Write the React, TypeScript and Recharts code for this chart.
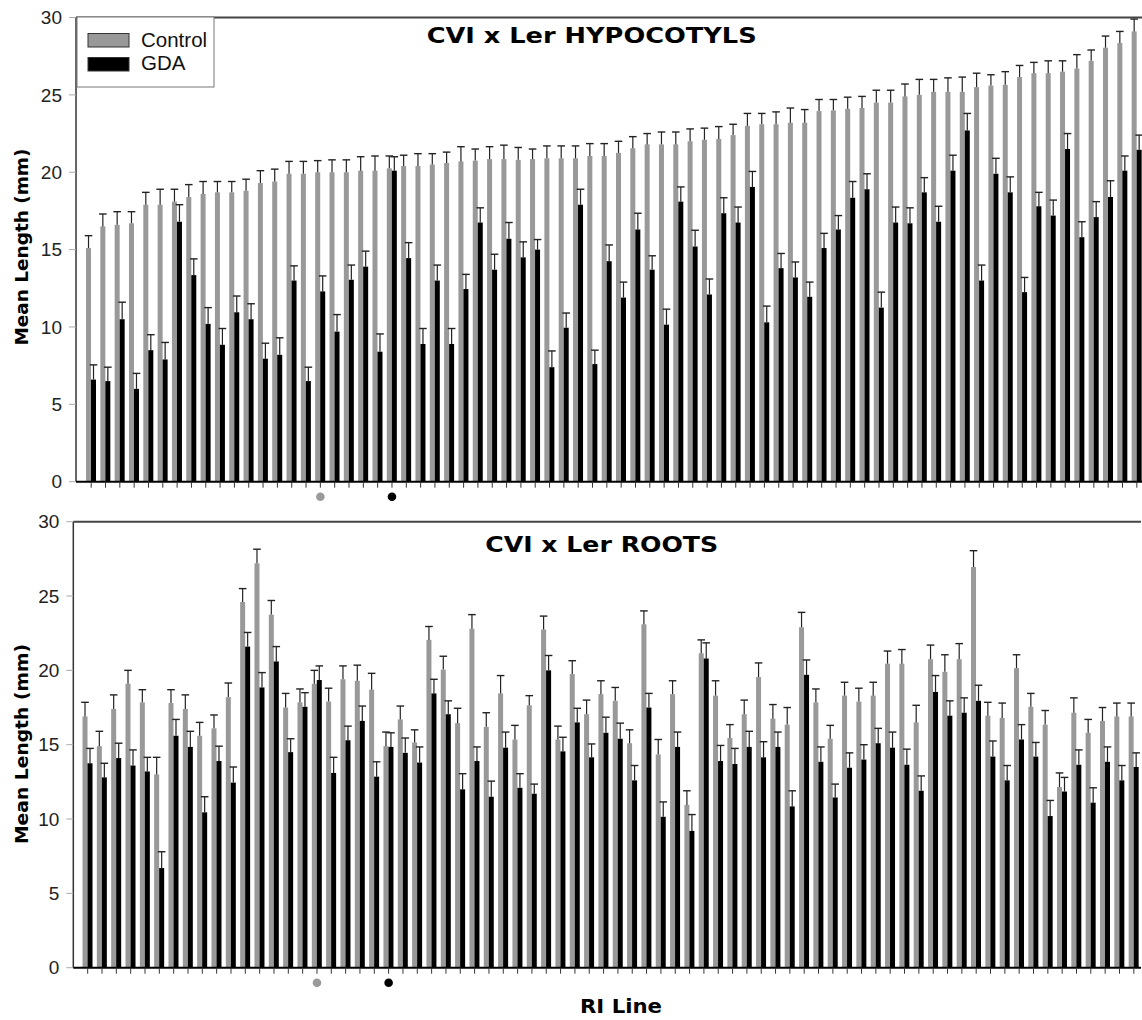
import React from "react";
import { BarChart, Bar, XAxis, YAxis, ReferenceLine } from "recharts";

// hypocotyl lengths (mm), lines sorted by control length
const hypoControl = [
  15.1, 16.5, 16.6, 16.7, 17.9, 17.9, 18.1, 18.4, 18.6, 18.7, 18.7, 18.8, 19.3, 19.4, 19.9, 19.9, 20.0, 20.0, 20.0,
  20.1, 20.1, 20.25, 20.4, 20.4, 20.5, 20.6, 20.7, 20.75, 20.85, 20.85, 20.8, 20.85, 20.9, 20.9, 20.9, 21.05, 21.05,
  21.25, 21.55, 21.8, 21.8, 21.8, 22.0, 22.1, 22.15, 22.4, 23.0, 23.1, 23.1, 23.2, 23.2, 23.95, 24.0, 24.1, 24.15,
  24.5, 24.5, 24.9, 25.0, 25.2, 25.2, 25.2, 25.5, 25.6, 25.65, 26.15, 26.4, 26.4, 26.5, 26.7, 27.2, 28.05, 28.35, 29.1,
];
const hypoControlErr = [
  0.8, 0.8, 0.85, 0.75, 0.8, 1.0, 0.8, 0.8, 0.8, 0.7, 0.7, 0.75, 0.8, 0.8, 0.8, 0.8, 0.75, 0.8, 0.8, 0.9, 0.95, 0.8,
  0.7, 0.8, 0.7, 0.7, 0.95, 0.75, 0.8, 0.9, 0.8, 0.65, 0.8, 0.8, 0.8, 0.8, 0.8, 0.75, 0.75, 0.7, 0.8, 0.8, 0.8, 0.75,
  0.8, 0.7, 0.8, 0.7, 0.8, 0.95, 0.85, 0.75, 0.7, 0.75, 0.75, 0.8, 0.8, 0.8, 1.0, 0.8, 0.9, 0.95, 0.9, 0.7, 0.85, 0.75,
  0.7, 0.8, 0.7, 0.9, 0.7, 0.75, 0.75, 0.8,
];
const hypoGda = [
  6.6, 6.5, 10.5, 6.0, 8.5, 7.9, 16.8, 13.35, 10.2, 8.85, 10.95, 10.5, 7.95, 8.2, 13.0, 6.5, 12.3, 9.7, 13.05, 13.9,
  8.4, 20.1, 14.45, 8.9, 13.0, 8.9, 12.45, 16.75, 13.7, 15.7, 14.5, 15.0, 7.4, 9.95, 17.9, 7.6, 14.25, 11.9, 16.3,
  13.7, 10.15, 18.1, 15.2, 12.1, 17.35, 16.75, 19.05, 10.3, 13.8, 13.2, 11.95, 15.1, 16.3, 18.35, 18.9, 11.25, 16.75,
  16.7, 18.7, 16.8, 20.1, 22.7, 13.0, 19.9, 18.7, 12.25, 17.8, 17.2, 21.5, 15.8, 17.1, 18.4, 20.1, 21.45,
];
const hypoGdaErr = [
  0.95, 0.9, 1.1, 1.0, 1.0, 1.1, 1.1, 1.05, 1.05, 1.05, 1.05, 1.0, 1.0, 1.1, 0.95, 0.9, 1.0, 1.1, 0.95, 1.0, 1.15, 0.9,
  1.0, 1.0, 1.0, 1.0, 0.95, 0.95, 1.0, 1.05, 1.0, 0.65, 1.05, 0.95, 1.0, 0.9, 1.05, 1.0, 1.05, 0.9, 1.0, 0.95, 1.05,
  1.0, 1.0, 1.0, 1.0, 1.05, 0.95, 1.0, 0.95, 0.95, 0.9, 1.05, 1.0, 1.0, 1.0, 1.0, 0.95, 1.0, 1.0, 1.1, 1.0, 1.0, 1.0,
  0.95, 0.9, 1.0, 1.0, 1.0, 1.0, 1.05, 0.95, 0.95,
];

// root lengths (mm), same line order
const rootControl = [
  16.9, 14.9, 17.4, 19.1, 17.85, 13.0, 17.8, 17.4, 15.6, 16.1, 18.2, 24.6, 27.2, 23.75, 17.5, 17.85, 19.1, 17.9, 19.4,
  19.3, 18.7, 14.9, 16.7, 15.15, 22.05, 20.05, 16.45, 22.8, 16.2, 18.45, 15.35, 17.65, 22.75, 15.35, 19.75, 17.05,
  18.4, 17.95, 15.1, 23.1, 14.35, 18.4, 10.95, 21.15, 18.3, 15.45, 17.05, 19.55, 16.75, 16.35, 22.9, 17.85, 15.4,
  18.3, 17.9, 18.3, 20.45, 20.45, 16.5, 20.75, 19.9, 20.75, 26.95, 16.95, 16.8, 20.15, 17.55, 16.35, 12.15, 17.15,
  15.8, 16.6, 16.9, 16.9,
];
const rootControlErr = [
  0.95, 1.0, 0.95, 0.9, 0.85, 1.15, 0.9, 0.95, 0.9, 0.9, 0.95, 0.9, 0.95, 0.95, 0.95, 0.9, 0.9, 0.9, 0.9, 1.05, 1.1,
  0.95, 0.9, 0.85, 0.9, 0.9, 1.0, 0.95, 0.95, 1.2, 0.95, 0.65, 0.9, 0.9, 0.9, 0.95, 0.9, 0.9, 0.9, 0.9, 1.0, 0.9, 0.95,
  0.9, 1.0, 0.9, 0.95, 0.95, 0.95, 1.15, 1.0, 0.9, 0.9, 0.9, 0.9, 0.9, 0.85, 0.95, 1.15, 0.95, 1.15, 1.05, 1.1, 0.9,
  1.0, 0.9, 0.9, 0.95, 0.95, 1.0, 0.9, 0.9, 0.9, 0.9,
];
const rootGda = [
  13.75, 12.8, 14.1, 13.6, 13.2, 6.7, 15.6, 14.85, 10.45, 13.9, 12.45, 21.6, 18.85, 20.6, 14.5, 17.55, 19.35, 13.1,
  15.3, 16.6, 12.85, 14.85, 14.45, 13.8, 18.45, 17.05, 12.0, 13.9, 11.5, 14.8, 12.1, 11.7, 20.0, 14.55, 16.5, 14.15,
  15.8, 15.4, 12.6, 17.5, 10.15, 14.85, 9.2, 20.8, 13.9, 13.7, 14.85, 14.15, 14.85, 10.85, 19.7, 13.85, 11.45, 13.45,
  14.0, 15.1, 14.8, 13.65, 11.9, 18.55, 16.95, 17.15, 17.95, 14.2, 12.6, 15.35, 14.2, 10.2, 11.85, 13.65, 11.1, 13.85,
  12.6, 13.5,
];
const rootGdaErr = [
  1.0, 0.95, 1.0, 1.05, 0.95, 1.1, 1.1, 1.05, 1.05, 1.0, 1.05, 0.95, 1.0, 1.0, 0.9, 0.95, 0.95, 1.05, 0.95, 1.0, 1.0,
  0.95, 1.0, 1.05, 0.95, 0.9, 1.05, 0.95, 1.05, 1.05, 0.95, 0.65, 1.0, 0.95, 0.95, 0.9, 1.05, 1.05, 1.0, 0.95, 1.0,
  1.0, 1.1, 1.05, 1.05, 1.05, 1.05, 1.05, 1.0, 1.05, 1.0, 1.0, 0.9, 1.0, 1.0, 1.0, 1.05, 1.05, 1.0, 1.1, 1.0, 1.0,
  1.05, 1.05, 1.0, 1.0, 0.95, 1.05, 0.95, 1.0, 1.0, 1.0, 1.0, 0.95,
];

const lines = hypoControl.map((_, i) => `RI${i + 1}`);
const yTicks = [0, 5, 10, 15, 20, 25, 30];
const seriesNames = ["Control", "GDA"];
const seriesColors = ["#999999", "#000000"];
// parental lines marked under the axis
const parentIdx = [16, 21];
const parentColors = ["#9a9a9a", "#000000"];

const FONT = "'Liberation Sans', Arial, sans-serif";
const BOLD = "'DejaVu Sans', 'Liberation Sans', sans-serif";

function buildRows(ctrl: number[], ctrlErr: number[], gda: number[], gdaErr: number[]) {
  return lines.map((name, i) => ({
    name,
    control: ctrl[i],
    controlErr: ctrlErr[i],
    gda: gda[i],
    gdaErr: gdaErr[i],
  }));
}

const hypoRows = buildRows(hypoControl, hypoControlErr, hypoGda, hypoGdaErr);
const rootRows = buildRows(rootControl, rootControlErr, rootGda, rootGdaErr);

// bar + upward-only error whisker, scaled by the bar's own px/unit
function barWithCap(valKey: string, errKey: string) {
  return (props: any) => {
    const { x, y, width, height, fill, payload } = props;
    const v = payload[valKey];
    const k = v ? height / v : 0;
    const cx = x + width / 2;
    const top = y - payload[errKey] * k;
    return (
      <g>
        <rect x={x} y={y} width={width} height={height} fill={fill} />
        <line x1={cx} y1={y} x2={cx} y2={top} stroke="#222" strokeWidth={1.2} />
        <line x1={cx - 3.8} y1={top} x2={cx + 3.8} y2={top} stroke="#222" strokeWidth={1.4} />
      </g>
    );
  };
}

const MarkerTick = (props: any) => {
  const { x, y } = props;
  const idx = props.index ?? props.payload?.index;
  const j = parentIdx.indexOf(idx);
  if (j < 0) return <g />;
  return <circle cx={x} cy={y + 7} r={4.3} fill={parentColors[j]} />;
};

function Panel({ rows, chartH, marginTop, marginRight, axisW, padLeft }: any) {
  return (
    <BarChart
      width={1150}
      height={chartH}
      data={rows}
      margin={{ top: marginTop, right: marginRight, bottom: 0, left: 0 }}
      barGap={0}
      barSize={5}
    >
      <YAxis
        width={axisW}
        domain={[0, 30]}
        ticks={yTicks}
        interval={0}
        tickSize={7}
        tickMargin={7}
        axisLine={{ stroke: "#333", strokeWidth: 1.5 }}
        tickLine={{ stroke: "#aaa" }}
        tick={{ fill: "#222", fontSize: 19, fontFamily: FONT }}
      />
      <XAxis
        dataKey="name"
        height={25}
        interval={0}
        padding={{ left: padLeft, right: 0 }}
        tickSize={6}
        axisLine={{ stroke: "#000", strokeWidth: 2 }}
        tickLine={{ stroke: "#333" }}
        tick={<MarkerTick />}
      />
      <ReferenceLine y={30} stroke="#444" strokeWidth={2} />
      <Bar
        dataKey="control"
        name={seriesNames[0]}
        fill={seriesColors[0]}
        isAnimationActive={false}
        shape={barWithCap("control", "controlErr")}
      />
      <Bar
        dataKey="gda"
        name={seriesNames[1]}
        fill={seriesColors[1]}
        isAnimationActive={false}
        shape={barWithCap("gda", "gdaErr")}
      />
    </BarChart>
  );
}

export default function App() {
  return (
    <div style={{ position: "absolute", left: 0, top: 0, width: 1142, height: 1020, overflow: "hidden", background: "#fff" }}>
      <div style={{ position: "absolute", left: 0, top: 0 }}>
        <Panel rows={hypoRows} chartH={506.7} marginTop={17.5} marginRight={6} axisW={76} padLeft={8} />
      </div>
      <div style={{ position: "absolute", left: 0, top: 500 }}>
        <Panel rows={rootRows} chartH={492.7} marginTop={21.7} marginRight={9} axisW={73.3} padLeft={7.2} />
      </div>
      <svg
        width={1142}
        height={1020}
        style={{ position: "absolute", left: 0, top: 0, pointerEvents: "none" }}
      >
        {/* legend */}
        <rect x={77} y={17} width={137} height={70} fill="#fff" stroke="#777" strokeWidth={1} />
        {seriesNames.map((n, i) => (
          <g key={n}>
            <rect x={88} y={33.5 + i * 24} width={41} height={13.5} fill={seriesColors[i]} stroke="#333" strokeWidth={1} />
            <text x={141} y={46.7 + i * 23.5} fontSize={20.5} fontFamily={FONT} fill="#111">
              {n}
            </text>
          </g>
        ))}
        <text x={591.7} y={43} textAnchor="middle" fontSize={21} fontWeight="bold" fontFamily={BOLD} fill="#000" textLength={330} lengthAdjust="spacingAndGlyphs">
          CVI x Ler HYPOCOTYLS
        </text>
        <text x={601.7} y={552} textAnchor="middle" fontSize={21} fontWeight="bold" fontFamily={BOLD} fill="#000" textLength={233} lengthAdjust="spacingAndGlyphs">
          CVI x Ler ROOTS
        </text>
        <text transform="translate(28,247) rotate(-90)" textAnchor="middle" fontSize={17} fontWeight="bold" fontFamily={BOLD} fill="#000" textLength={197} lengthAdjust="spacingAndGlyphs">
          Mean Length (mm)
        </text>
        <text transform="translate(28,744) rotate(-90)" textAnchor="middle" fontSize={17} fontWeight="bold" fontFamily={BOLD} fill="#000" textLength={200} lengthAdjust="spacingAndGlyphs">
          Mean Length (mm)
        </text>
        <text x={621} y={1013} textAnchor="middle" fontSize={20} fontWeight="bold" fontFamily={BOLD} fill="#000" textLength={82} lengthAdjust="spacingAndGlyphs">
          RI Line
        </text>
      </svg>
    </div>
  );
}
